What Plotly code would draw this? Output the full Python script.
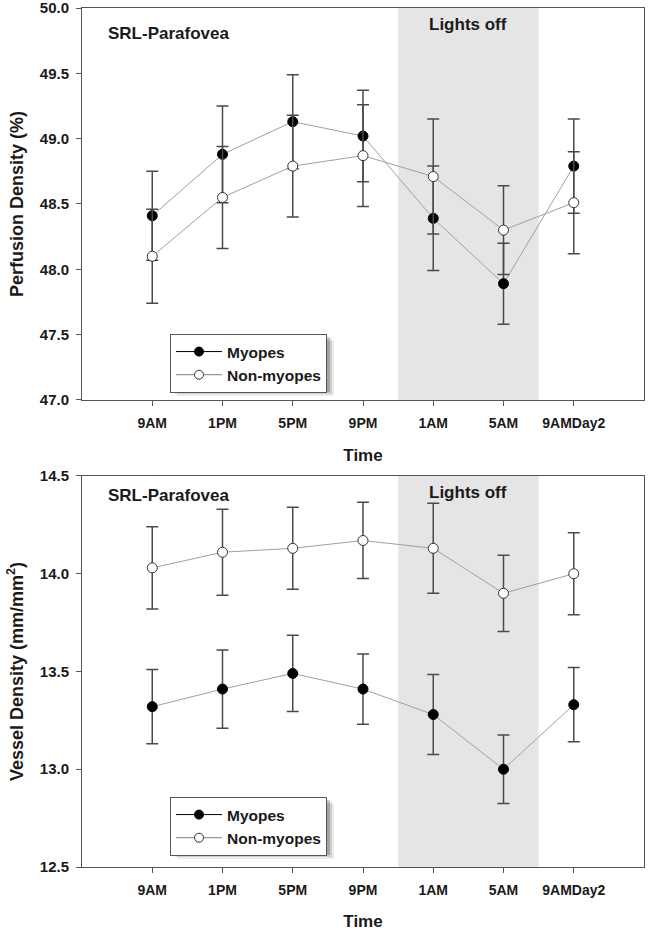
import plotly.graph_objects as go
from plotly.subplots import make_subplots

# ---------------- data ----------------
times = ["9AM", "1PM", "5PM", "9PM", "1AM", "5AM", "9AMDay2"]

pd_myopes = [48.41, 48.88, 49.13, 49.02, 48.39, 47.89, 48.79]
pd_myopes_sem = [0.34, 0.37, 0.36, 0.35, 0.40, 0.31, 0.36]
pd_non = [48.10, 48.55, 48.79, 48.87, 48.71, 48.30, 48.51]
pd_non_sem = [0.36, 0.39, 0.39, 0.39, 0.44, 0.34, 0.39]

vd_myopes = [13.32, 13.41, 13.49, 13.41, 13.28, 13.00, 13.33]
vd_myopes_sem = [0.19, 0.20, 0.195, 0.18, 0.205, 0.175, 0.19]
vd_non = [14.03, 14.11, 14.13, 14.17, 14.13, 13.90, 14.00]
vd_non_sem = [0.21, 0.22, 0.21, 0.195, 0.23, 0.195, 0.21]

pd_ticks = [47.0, 47.5, 48.0, 48.5, 49.0, 49.5, 50.0]
vd_ticks = [12.5, 13.0, 13.5, 14.0, 14.5]

lights_off = ("1AM", "5AM")
panel_label = "SRL-Parafovea"

# ---------------- styling ----------------
FONT = "Arial, Liberation Sans, sans-serif"
TXT = "#1a1a1a"
AX = "#555555"
LINE = "#a0a0a0"
ERR = "#4a4a4a"
SHADE = "#e5e5e5"

W, H = 650, 931
ML, MR, MT, MB = 82, 6, 8, 64

fig = make_subplots(rows=2, cols=1, vertical_spacing=0.0885)
fig.update_yaxes(domain=[0.5437, 1.0], row=1, col=1)
fig.update_yaxes(domain=[0.0, 0.4552], row=2, col=1)


def add_series(y, sem, row, filled, legend):
    fig.add_trace(go.Scatter(
        x=times, y=y, mode="lines+markers", showlegend=False,
        line=dict(color=LINE, width=1),
        marker=dict(size=10, color="black" if filled else "white",
                    line=dict(color="black" if filled else "#333333", width=1)),
        error_y=dict(type="data", array=sem, visible=True, color=ERR,
                     thickness=1.5, width=6),
    ), row=row, col=1)
    # legend entry
    fig.add_trace(go.Scatter(
        x=[None], y=[None], mode="lines+markers",
        name="Myopes" if filled else "Non-myopes", legend=legend,
        line=dict(color="black" if filled else "#808080", width=1),
        marker=dict(size=9, color="black" if filled else "white",
                    line=dict(color="black" if filled else "#333333", width=1)),
    ), row=row, col=1)


add_series(pd_myopes, pd_myopes_sem, 1, True, "legend")
add_series(pd_non, pd_non_sem, 1, False, "legend")
add_series(vd_myopes, vd_myopes_sem, 2, True, "legend2")
add_series(vd_non, vd_non_sem, 2, False, "legend2")

axis_common = dict(
    showline=True, linecolor=AX, linewidth=1, mirror=True,
    ticks="outside", ticklen=5, tickcolor=AX, tickwidth=1,
    showgrid=False, zeroline=False, ticklabeloverflow="allow",
)

for r in (1, 2):
    fig.update_xaxes(
        **axis_common, type="category", categoryorder="array",
        categoryarray=times, range=[-1, 7],
        tickfont=dict(family=FONT, size=14, color=TXT, weight="bold"),
        ticklabelstandoff=5,
        title=dict(text="Time", standoff=19,
                   font=dict(family=FONT, size=17, color=TXT, weight="bold")),
        row=r, col=1,
    )

fig.update_yaxes(
    **axis_common, range=[47.0, 50.0], tickvals=pd_ticks,
    ticktext=[f"{v:.1f}" for v in pd_ticks],
    tickfont=dict(family=FONT, size=15, color=TXT, weight="bold"),
    ticklabelstandoff=4,
    title=dict(text="Perfusion Density (%)", standoff=11,
               font=dict(family=FONT, size=18, color=TXT, weight="bold")),
    row=1, col=1,
)
fig.update_yaxes(
    **axis_common, range=[12.5, 14.5], tickvals=vd_ticks,
    ticktext=[f"{v:.1f}" for v in vd_ticks],
    tickfont=dict(family=FONT, size=15, color=TXT, weight="bold"),
    ticklabelstandoff=4,
    title=dict(text="Vessel Density (mm/mm<sup>2</sup>)", standoff=11,
               font=dict(family=FONT, size=18, color=TXT, weight="bold")),
    row=2, col=1,
)

# lights-off shading
shapes = []
for xr, yr in (("x", "y"), ("x2", "y2")):
    shapes.append(dict(type="rect", xref=xr, yref=f"{yr} domain",
                       x0=times.index(lights_off[0]) - 0.5,
                       x1=times.index(lights_off[1]) + 0.5,
                       y0=0, y1=1, fillcolor=SHADE, line=dict(width=0),
                       layer="below"))

PW = W - ML - MR
PH = H - MT - MB


def px(x):
    return (x - ML) / PW


def py(y):
    return (H - MB - y) / PH


LEG_W, LEG_H = 157, 55
# soft legend shadows
for top in (334, 797):
    for k, op in ((7, 0.08), (5, 0.12), (3, 0.2)):
        shapes.append(dict(type="rect", xref="paper", yref="paper",
                           x0=px(170 + k), x1=px(170 + LEG_W + k),
                           y0=py(top + LEG_H + k), y1=py(top + k),
                           fillcolor="#000000", opacity=op,
                           line=dict(width=0), layer="above"))
fig.update_layout(shapes=shapes)

ann_font = dict(family=FONT, size=17, color=TXT, weight="bold")
annotations = []
for xd, yd, ylab in (("x domain", "y domain", 0.936),
                     ("x2 domain", "y2 domain", 0.951)):
    annotations.append(dict(text=panel_label, xref=xd, yref=yd,
                            x=(106 - ML) / PW, y=ylab, xanchor="left",
                            yanchor="middle", showarrow=False, font=ann_font))
for xr, yd in (("x", "y domain"), ("x2", "y2 domain")):
    annotations.append(dict(text="Lights off", xref=xr, yref=yd,
                            x=(times.index(lights_off[0]) + times.index(lights_off[1])) / 2,
                            y=0.957, xanchor="center", yanchor="middle",
                            showarrow=False, font=ann_font))

legend_style = dict(
    bgcolor="white", bordercolor=AX, borderwidth=1,
    font=dict(family=FONT, size=15.5, color=TXT, weight="bold"),
    itemwidth=46, tracegroupgap=0, xanchor="left", yanchor="top",
    x=px(170), traceorder="normal",
)

fig.update_layout(
    width=W, height=H,
    margin=dict(l=ML, r=MR, t=MT, b=MB, autoexpand=False),
    paper_bgcolor="white", plot_bgcolor="white",
    font=dict(family=FONT, color=TXT),
    annotations=annotations,
    legend=dict(**legend_style, y=py(334)),
    legend2=dict(**legend_style, y=py(797)),
)

fig.write_html(
    "out.html",
    config={"displayModeBar": False},
    post_script="document.body.style.margin='0px';document.body.style.overflow='hidden';",
)
